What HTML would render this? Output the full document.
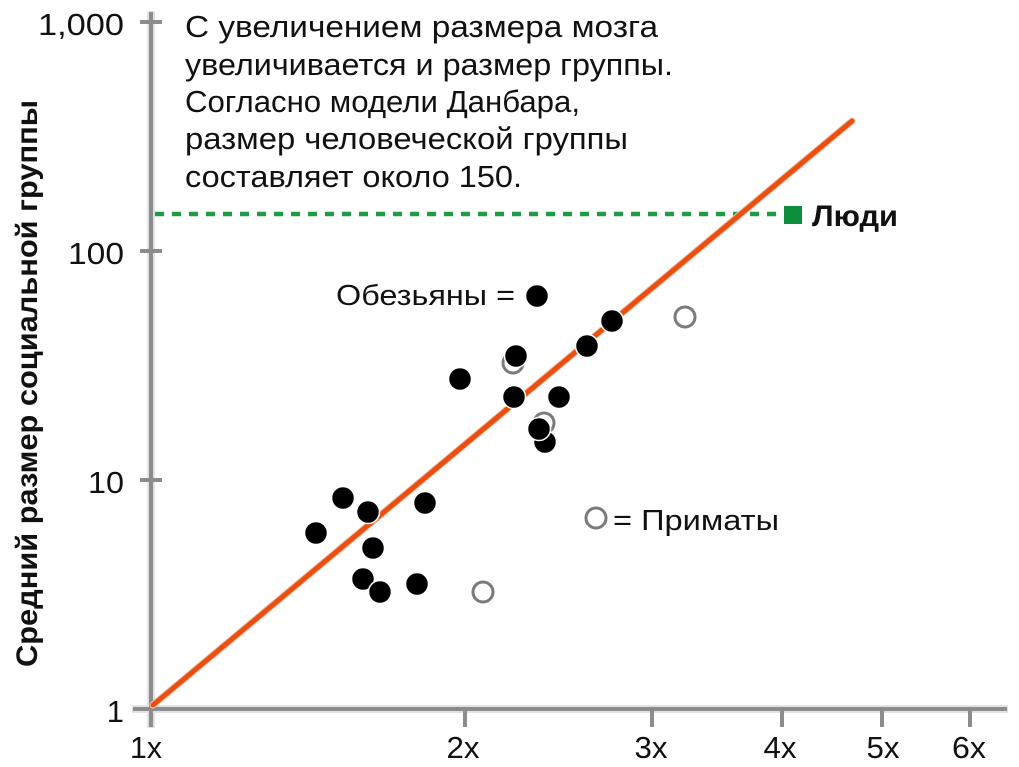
<!DOCTYPE html>
<html>
<head>
<meta charset="utf-8">
<style>
html,body{margin:0;padding:0;background:#fff;}
svg{display:block;}
text{font-family:"Liberation Sans","Noto Sans CJK SC",sans-serif;fill:#111;}
</style>
</head>
<body>
<svg width="1019" height="767" viewBox="0 0 1019 767" xmlns="http://www.w3.org/2000/svg">
  <rect width="1019" height="767" fill="#fff"/>

  <!-- axes halo -->
  <g stroke="#e2e2e2" stroke-width="8" fill="none">
    <line x1="151" y1="11" x2="151" y2="728"/>
    <line x1="132" y1="709" x2="1008" y2="709"/>
  </g>
  <!-- axes -->
  <g stroke="#8c8c8c" stroke-width="4" fill="none">
    <line x1="151" y1="12" x2="151" y2="727"/>
    <line x1="133" y1="709" x2="1007" y2="709"/>
    <!-- y ticks -->
    <line x1="140" y1="22" x2="162" y2="22"/>
    <line x1="140" y1="251" x2="162" y2="251"/>
    <line x1="140" y1="480" x2="162" y2="480"/>
    <!-- x ticks -->
    <line x1="465" y1="709" x2="465" y2="727"/>
    <line x1="652" y1="709" x2="652" y2="727"/>
    <line x1="782" y1="709" x2="782" y2="727"/>
    <line x1="882" y1="709" x2="882" y2="727"/>
    <line x1="970" y1="709" x2="970" y2="727"/>
  </g>

  <!-- y tick labels -->
  <g font-size="31" text-anchor="end">
    <text x="124" y="35" textLength="86" lengthAdjust="spacingAndGlyphs">1,000</text>
    <text x="124" y="264" textLength="56" lengthAdjust="spacingAndGlyphs">100</text>
    <text x="124" y="493" textLength="36" lengthAdjust="spacingAndGlyphs">10</text>
    <text x="124" y="722">1</text>
  </g>

  <!-- x tick labels -->
  <g font-size="31" text-anchor="middle">
    <text x="146" y="758" textLength="32" lengthAdjust="spacingAndGlyphs">1x</text>
    <text x="463" y="758" textLength="33" lengthAdjust="spacingAndGlyphs">2x</text>
    <text x="651" y="758" textLength="33" lengthAdjust="spacingAndGlyphs">3x</text>
    <text x="780" y="758" textLength="33" lengthAdjust="spacingAndGlyphs">4x</text>
    <text x="883" y="758" textLength="33" lengthAdjust="spacingAndGlyphs">5x</text>
    <text x="969" y="758" textLength="34" lengthAdjust="spacingAndGlyphs">6x</text>
  </g>

  <!-- y axis title -->
  <text transform="translate(37,667) rotate(-90)" font-size="30" font-weight="bold" textLength="567" lengthAdjust="spacingAndGlyphs">Средний размер социальной группы</text>

  <!-- title text -->
  <g font-size="31">
    <text x="185" y="37" textLength="473" lengthAdjust="spacingAndGlyphs">С увеличением размера мозга</text>
    <text x="185" y="75" textLength="488" lengthAdjust="spacingAndGlyphs">увеличивается и размер группы.</text>
    <text x="185" y="112" textLength="395" lengthAdjust="spacingAndGlyphs">Согласно модели Данбара,</text>
    <text x="185" y="149" textLength="443" lengthAdjust="spacingAndGlyphs">размер человеческой группы</text>
    <text x="185" y="187" textLength="337" lengthAdjust="spacingAndGlyphs">составляет около 150.</text>
  </g>

  <!-- green dashed line -->
  <line x1="155" y1="214" x2="784" y2="214" stroke="#c8e8d2" stroke-width="6" stroke-dasharray="9 8"/>
  <line x1="155" y1="214" x2="784" y2="214" stroke="#1c9b48" stroke-width="4" stroke-dasharray="9 8"/>

  <!-- orange regression line -->
  <line x1="153" y1="705" x2="852" y2="121" stroke="#f6c2ad" stroke-width="7" stroke-linecap="round"/>
  <line x1="153" y1="705" x2="852" y2="121" stroke="#ea4f10" stroke-width="5" stroke-linecap="round"/>

  <!-- humans marker -->
  <rect x="784" y="206" width="18" height="18" fill="#0b8f3d"/>
  <text x="812" y="226" font-size="30" font-weight="bold" textLength="86" lengthAdjust="spacingAndGlyphs">Люди</text>

  <!-- labels -->
  <text x="336" y="305" font-size="29" textLength="179" lengthAdjust="spacingAndGlyphs">Обезьяны =</text>
  <text x="613" y="530" font-size="29" textLength="166" lengthAdjust="spacingAndGlyphs">= Приматы</text>

  <!-- open (primate) circles -->
  <g fill="#fff" stroke="#7a7a7a" stroke-width="3">
    <circle cx="513" cy="363" r="10"/>
    <circle cx="544" cy="423" r="10"/>
    <circle cx="483" cy="592" r="10"/>
    <circle cx="596" cy="518" r="10"/>
    <circle cx="685" cy="317" r="10"/>
  </g>

  <!-- filled (ape) circles -->
  <g fill="#000" stroke="#fff" stroke-width="1.5">
    <circle cx="537" cy="296" r="11.5"/>
    <circle cx="612" cy="321" r="11.5"/>
    <circle cx="587" cy="346" r="11.5"/>
    <circle cx="516" cy="356" r="11.5"/>
    <circle cx="460" cy="379" r="11.5"/>
    <circle cx="514" cy="397" r="11.5"/>
    <circle cx="559" cy="397" r="11.5"/>
    <circle cx="545" cy="442" r="11.5"/>
    <circle cx="539" cy="429" r="11.5"/>
    <circle cx="343" cy="498" r="11.5"/>
    <circle cx="368" cy="512" r="11.5"/>
    <circle cx="425" cy="503" r="11.5"/>
    <circle cx="316" cy="533" r="11.5"/>
    <circle cx="373" cy="548" r="11.5"/>
    <circle cx="363" cy="579" r="11.5"/>
    <circle cx="380" cy="592" r="11.5"/>
    <circle cx="417" cy="584" r="11.5"/>
  </g>
</svg>
</body>
</html>
